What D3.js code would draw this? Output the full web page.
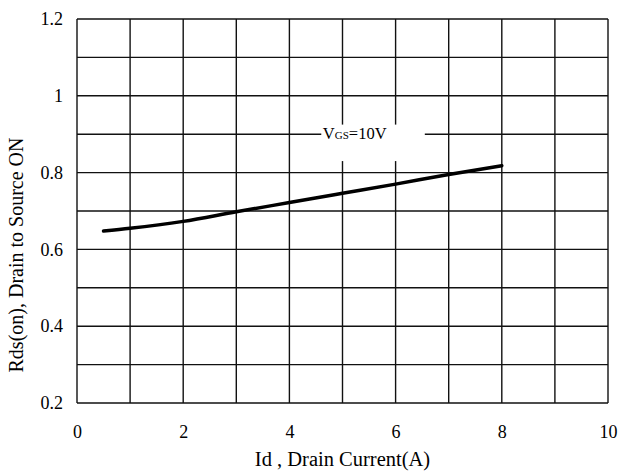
<!DOCTYPE html>
<html>
<head>
<meta charset="utf-8">
<script src="https://cdn.jsdelivr.net/npm/d3@7"></script>
<style>
  body { margin: 0; background: #fff; }
  text { font-family: "Liberation Serif", "Times New Roman", serif; fill: #000; }
</style>
</head>
<body>
<svg id="chart" width="622" height="471"></svg>
<script>
// data
const idAmps = [0.5, 1, 2, 3, 4, 5, 6, 7, 8];
const rdsOn = [0.648, 0.655, 0.673, 0.698, 0.722, 0.746, 0.77, 0.795, 0.818];
const xTicks = [0, 2, 4, 6, 8, 10];
const yTicks = [0.2, 0.4, 0.6, 0.8, 1, 1.2];
const xGrid = d3.range(0, 11, 1);
const yGrid = d3.range(0.2, 1.21, 0.1);

let svg = d3.select("#chart");
let margin = {left: 77, right: 14, top: 19, bottom: 68},
	width = 622 - margin.left - margin.right,
	height = 471 - margin.top - margin.bottom;

let x = d3.scaleLinear().domain([0, 10]).range([0, width]);
let y = d3.scaleLinear().domain([0.2, 1.2]).range([height, 0]);

let g = svg.append("g").attr("transform", `translate(${margin.left},${margin.top})`);

// grid
g.selectAll("line.vg").data(xGrid).enter().append("line")
	.attr("x1", d => x(d)).attr("x2", d => x(d))
	.attr("y1", 0).attr("y2", height)
	.attr("stroke", "#111").attr("stroke-width", 1.4);
g.selectAll("line.hg").data(yGrid).enter().append("line")
	.attr("x1", 0).attr("x2", width)
	.attr("y1", d => y(d)).attr("y2", d => y(d))
	.attr("stroke", "#111").attr("stroke-width", 1.4);

// label box knocks out the grid
g.append("rect")
	.attr("x", x(4.6)).attr("y", y(0.925))
	.attr("width", x(6.55) - x(4.6)).attr("height", y(0.83) - y(0.925))
	.attr("fill", "#fff");
let lbl = g.append("text")
	.attr("x", x(4.63)).attr("y", y(0.9) + 5)
	.attr("font-size", 16.5);
lbl.append("tspan").text("V");
lbl.append("tspan").attr("font-size", 11).text("GS");
lbl.append("tspan").text("=10V");

// curve
let line = d3.line()
	.curve(d3.curveMonotoneX)
	.x((d, i) => x(idAmps[i]))
	.y(d => y(d));
g.append("path")
	.datum(rdsOn)
	.attr("d", line)
	.attr("fill", "none")
	.attr("stroke", "#000")
	.attr("stroke-width", 3.5)
	.attr("stroke-linecap", "round");

// axes
let xAxis = g.append("g")
	.attr("transform", `translate(0,${height})`)
	.call(d3.axisBottom(x).tickValues(xTicks).tickSize(0).tickPadding(22).tickFormat(d3.format("d")));
let yAxis = g.append("g")
	.call(d3.axisLeft(y).tickValues(yTicks).tickSize(0).tickPadding(14).tickFormat(d => d));
[xAxis, yAxis].forEach(a => {
	a.select(".domain").remove();
	a.selectAll("text").attr("font-size", 18).attr("font-family", "Liberation Serif, serif").attr("fill", "#000");
});

svg.append("text")
	.attr("x", margin.left + x(5)).attr("y", 466)
	.attr("text-anchor", "middle").attr("font-size", 20.5)
	.text("Id , Drain Current(A)");
svg.append("text")
	.attr("transform", "translate(23,255) rotate(-90)")
	.attr("text-anchor", "middle").attr("font-size", 20)
	.text("Rds(on), Drain to Source ON");
</script>
</body>
</html>
